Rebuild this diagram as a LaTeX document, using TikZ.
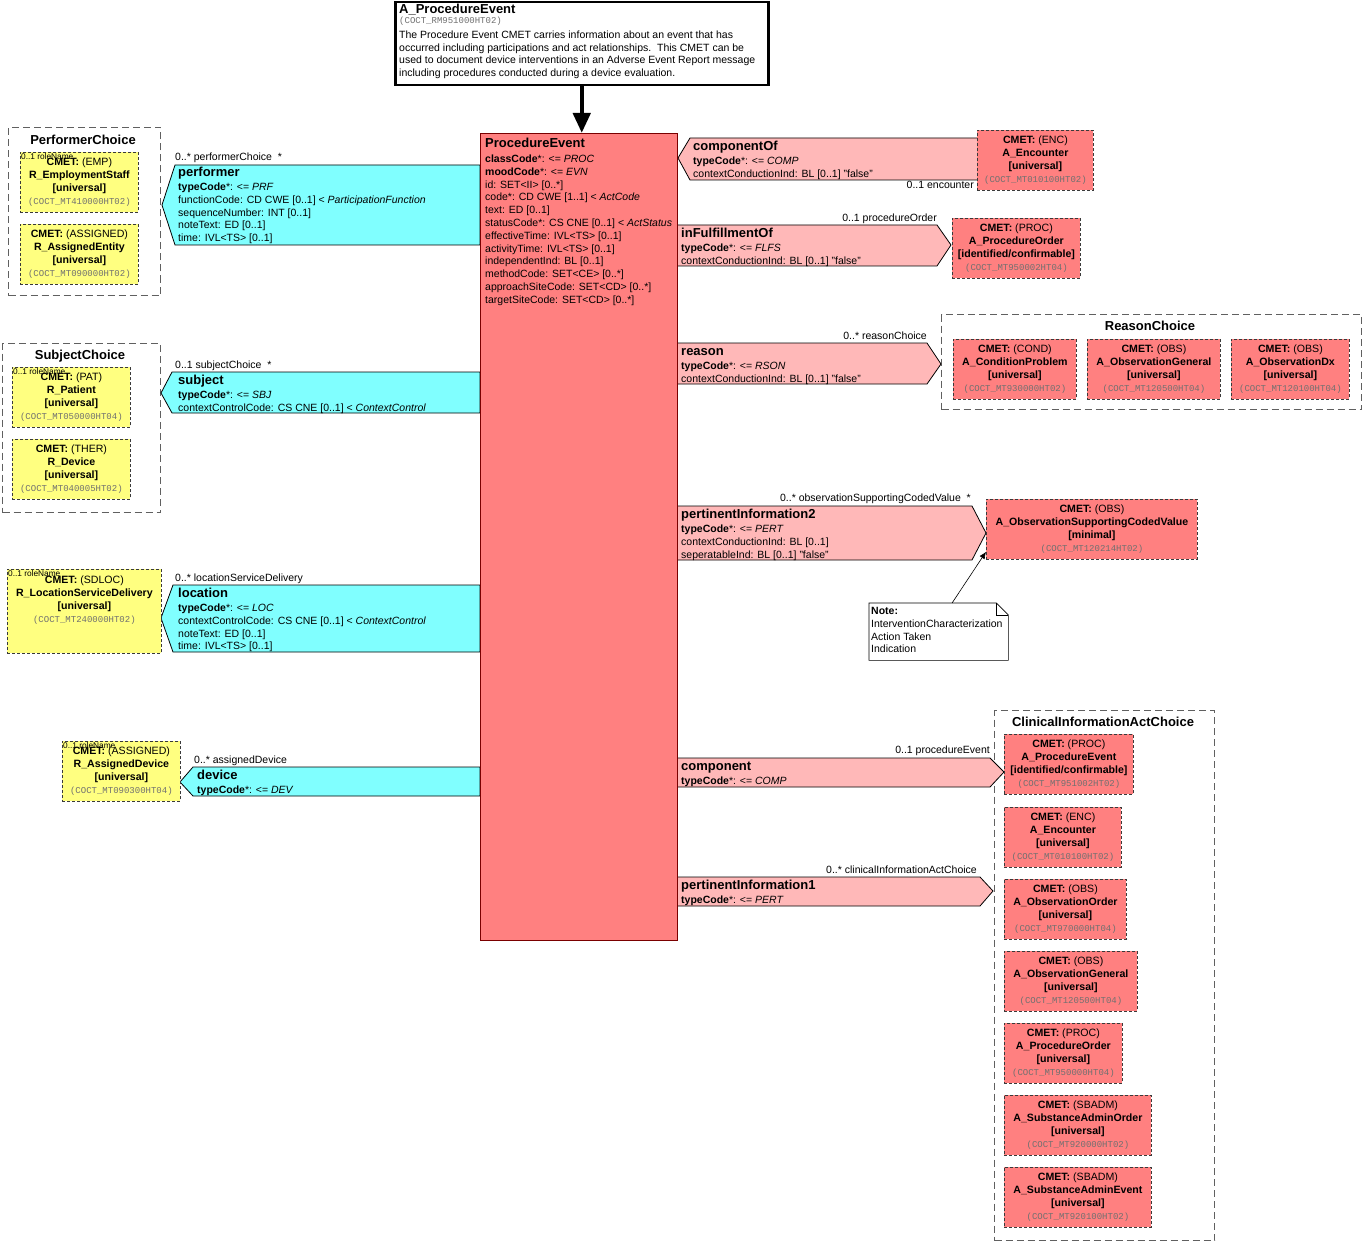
\documentclass[tikz,border=0pt]{standalone}
\usepackage{fontspec}
\setmainfont{Liberation Sans}
\setmonofont{Liberation Mono}
\usetikzlibrary{arrows.meta,positioning}

\definecolor{actred}{HTML}{FF8080}
\definecolor{actborder}{HTML}{7A0000}
\definecolor{relpink}{HTML}{FFB8B8}
\definecolor{partcyan}{HTML}{80FFFF}
\definecolor{roleyellow}{HTML}{FFFF80}
\definecolor{cmetborder}{HTML}{3A3A3A}
\definecolor{choicegray}{HTML}{606060}
\definecolor{codegray}{HTML}{707070}

\newcommand\attrfont{\fontsize{10.5}{12.8}\selectfont}
\newcommand\headfont{\fontsize{13}{15}\selectfont\bfseries}
\newcommand\multfont{\fontsize{10.5}{12}\selectfont}
\newcommand\codefont{\fontsize{9}{11}\selectfont\ttfamily\color{codegray}}
\newcommand\cmetfont{\fontsize{10.6}{13}\selectfont}
\newcommand\rolenamefont{\fontsize{8.3}{9}\selectfont}
\newcommand\cmettext[4]{\textbf{CMET:} (#1)\\\textbf{#2}\\\textbf{[#3]}\\{\codefont(#4)}}

\begin{document}
\begin{tikzpicture}[x=1pt,y=-1pt,
    every node/.style={inner sep=0pt},
    attr/.style={anchor=base west, align=left, font=\attrfont},
    relhead/.style={anchor=base west, font=\headfont},
    mult/.style={anchor=base west, font=\multfont},
    multr/.style={anchor=base east, font=\multfont},
    rolename/.style={anchor=north west, font=\rolenamefont},
    cmet/.style={draw=cmetborder, line width=0.8pt, dash pattern=on 3pt off 2pt,
      anchor=north west, align=center, font=\cmetfont, inner sep=2pt, minimum height=60},
    roleBox/.style={cmet, fill=roleyellow},
    actBox/.style={cmet, fill=actred},
    choice/.style={draw=choicegray, line width=1pt, dash pattern=on 7pt off 4pt, anchor=north west},
    choicetitle/.style={anchor=base, font=\headfont},
    partic/.style={draw=black, line width=0.8pt, fill=partcyan},
    actrel/.style={draw=black, line width=0.8pt, fill=relpink},
    bigarrow/.style={line width=4.5pt, -{Triangle[length=20pt,width=17pt]}}]

  \useasboundingbox (0,0) rectangle (1362,1241);

  % header box (multi-line nodes sit on the baseline of their last line)
  \node[draw, line width=2.5pt, fill=white, anchor=north west,
    minimum width=373, minimum height=83] (intro) at (394,1) {};
  \node[relhead] (introTitle) at (399,13.5) {A\_ProcedureEvent};
  \node[anchor=base west, font=\codefont] (introCode) at (399,23.5) {(COCT\_RM951000HT02)};
  \node[attr] (introText) at (399,76.7) {The Procedure Event CMET carries information about an event that has\\
    occurred including participations and act relationships.\ \ This CMET can be\\
    used to document device interventions in an Adverse Event Report message\\
    including procedures conducted during a device evaluation.};

  % choice boxes
  \node[choice, minimum width=152, minimum height=168] (perfChoice) at (8,127) {};
  \node[choicetitle] at (83,144.5) {PerformerChoice};
  \node[choice, minimum width=158, minimum height=169] (subjChoice) at (2,343) {};
  \node[choicetitle] at (80,359.5) {SubjectChoice};
  \node[choice, minimum width=420, minimum height=95] (reasonChoice) at (941,314) {};
  \node[choicetitle] at (1150,330.5) {ReasonChoice};
  \node[choice, minimum width=220, minimum height=530] (clinChoice) at (994,710) {};
  \node[choicetitle] at (1103,726.5) {ClinicalInformationActChoice};

  % participations (left)
  \draw[partic] (480,165) -- (175,165) -- (162,205) -- (175,245) -- (480,245) -- cycle;
  \node[mult] at (175,161) {0..* performerChoice\ \ *};
  \node[relhead] (performer) at (178,176.5) {performer};
  \node[attr] (performerAttr) at (178,241.7) {\textbf{typeCode}*: <= \textit{PRF}\\
    functionCode: CD CWE [0..1] < \textit{ParticipationFunction}\\
    sequenceNumber: INT [0..1]\\
    noteText: ED [0..1]\\
    time: IVL<TS> [0..1]};

  \draw[partic] (480,372) -- (172,372) -- (161,393) -- (172,413) -- (480,413) -- cycle;
  \node[mult] at (175,368.5) {0..1 subjectChoice\ \ *};
  \node[relhead] (subject) at (178,384.5) {subject};
  \node[attr] (subjectAttr) at (178,411.3) {\textbf{typeCode}*: <= \textit{SBJ}\\
    contextControlCode: CS CNE [0..1] < \textit{ContextControl}};

  \draw[partic] (480,585) -- (173,585) -- (161,618) -- (173,652) -- (480,652) -- cycle;
  \node[mult] at (175,581.5) {0..* locationServiceDelivery};
  \node[relhead] (location) at (178,597.5) {location};
  \node[attr] (locationAttr) at (178,649.9) {\textbf{typeCode}*: <= \textit{LOC}\\
    contextControlCode: CS CNE [0..1] < \textit{ContextControl}\\
    noteText: ED [0..1]\\
    time: IVL<TS> [0..1]};

  \draw[partic] (480,767) -- (193,767) -- (180,782) -- (193,796) -- (480,796) -- cycle;
  \node[mult] at (194,763.5) {0..* assignedDevice};
  \node[relhead] (device) at (197,779.5) {device};
  \node[attr] (deviceAttr) at (197,793.5) {\textbf{typeCode}*: <= \textit{DEV}};

  % act relationships (right)
  \draw[actrel] (980,138) -- (690,138) -- (678,158) -- (690,180) -- (980,180) -- cycle;
  \node[relhead] (componentOf) at (693,150.5) {componentOf};
  \node[attr] (componentOfAttr) at (693,177.3) {\textbf{typeCode}*: <= \textit{COMP}\\
    contextConductionInd: BL [0..1] "false"};
  \node[multr] at (974,188.5) {0..1 encounter};

  \draw[actrel] (677,225) -- (937,225) -- (951,245) -- (937,266) -- (677,266) -- cycle;
  \node[multr] at (937,221.5) {0..1 procedureOrder};
  \node[relhead] (inFulfillmentOf) at (681,237.5) {inFulfillmentOf};
  \node[attr] (inFulfillmentOfAttr) at (681,264.3) {\textbf{typeCode}*: <= \textit{FLFS}\\
    contextConductionInd: BL [0..1] "false"};

  \draw[actrel] (677,343) -- (927,343) -- (941,364) -- (927,384) -- (677,384) -- cycle;
  \node[multr] at (927,339.5) {0..* reasonChoice};
  \node[relhead] (reason) at (681,355.5) {reason};
  \node[attr] (reasonAttr) at (681,382.3) {\textbf{typeCode}*: <= \textit{RSON}\\
    contextConductionInd: BL [0..1] "false"};

  \draw[actrel] (677,506) -- (972,506) -- (986,533) -- (972,560) -- (677,560) -- cycle;
  \node[multr] at (971,501.5) {0..* observationSupportingCodedValue\ \ *};
  \node[relhead] (pertInfo2) at (681,518.5) {pertinentInformation2};
  \node[attr] (pertInfo2Attr) at (681,558.1) {\textbf{typeCode}*: <= \textit{PERT}\\
    contextConductionInd: BL [0..1]\\
    seperatableInd: BL [0..1] "false"};

  \draw[actrel] (677,758) -- (990,758) -- (1004,772) -- (990,787) -- (677,787) -- cycle;
  \node[multr] at (990,753.5) {0..1 procedureEvent};
  \node[relhead] (component) at (681,770.5) {component};
  \node[attr] (componentAttr) at (681,784.5) {\textbf{typeCode}*: <= \textit{COMP}};

  \draw[actrel] (677,877) -- (980,877) -- (993,891) -- (980,906) -- (677,906) -- cycle;
  \node[multr] at (977,873.5) {0..* clinicalInformationActChoice};
  \node[relhead] (pertInfo1) at (681,889.5) {pertinentInformation1};
  \node[attr] (pertInfo1Attr) at (681,903.5) {\textbf{typeCode}*: <= \textit{PERT}};

  % focal class
  \node[draw=actborder, line width=0.8pt, fill=actred, anchor=north west,
    minimum width=197, minimum height=807] (pe) at (480,133) {};
  \node[relhead] (peTitle) at (485,147.5) {ProcedureEvent};
  \node[attr] (peAttr) at (485,303.3) {\textbf{classCode}*: <= \textit{PROC}\\
    \textbf{moodCode}*: <= \textit{EVN}\\
    id: SET<II> [0..*]\\
    code*: CD CWE [1..1] < \textit{ActCode}\\
    text: ED [0..1]\\
    statusCode*: CS CNE [0..1] < \textit{ActStatus}\\
    effectiveTime: IVL<TS> [0..1]\\
    activityTime: IVL<TS> [0..1]\\
    independentInd: BL [0..1]\\
    methodCode: SET<CE> [0..*]\\
    approachSiteCode: SET<CD> [0..*]\\
    targetSiteCode: SET<CD> [0..*]};

  \draw[bigarrow] (intro.south) -- (intro.south |- pe.north);

  % role CMETs
  \node[roleBox, minimum width=118] (empStaff) at (20,152) {\cmettext{EMP}{R\_EmploymentStaff}{universal}{COCT\_MT410000HT02}};
  \node[rolename] at (21,153) {0..1 roleName};
  \node[roleBox, minimum width=118] (assignedEntity) at (20,224) {\cmettext{ASSIGNED}{R\_AssignedEntity}{universal}{COCT\_MT090000HT02}};
  \node[roleBox, minimum width=118] (patient) at (12,367) {\cmettext{PAT}{R\_Patient}{universal}{COCT\_MT050000HT04}};
  \node[rolename] at (13,368) {0..1 roleName};
  \node[roleBox, minimum width=118] (rDevice) at (12,439) {\cmettext{THER}{R\_Device}{universal}{COCT\_MT040005HT02}};
  \node[roleBox, minimum width=154, minimum height=84] (locDelivery) at (7,569) {\cmettext{SDLOC}{R\_LocationServiceDelivery}{universal}{COCT\_MT240000HT02}\\[11pt]};
  \node[rolename] at (8,570) {0..1 roleName};
  \node[roleBox, minimum width=118] (assignedDevice) at (62,741) {\cmettext{ASSIGNED}{R\_AssignedDevice}{universal}{COCT\_MT090300HT04}};
  \node[rolename] at (63,742) {0..1 roleName};

  % act CMETs
  \node[actBox, minimum width=116] (encounter) at (977,130) {\cmettext{ENC}{A\_Encounter}{universal}{COCT\_MT010100HT02}};
  \node[actBox, minimum width=128] (procOrder) at (952,218) {\cmettext{PROC}{A\_ProcedureOrder}{identified/confirmable}{COCT\_MT950002HT04}};
  \node[actBox, minimum width=123] (condProblem) at (953,339) {\cmettext{COND}{A\_ConditionProblem}{universal}{COCT\_MT930000HT02}};
  \node[actBox, minimum width=133] (obsGeneral) at (1087,339) {\cmettext{OBS}{A\_ObservationGeneral}{universal}{COCT\_MT120500HT04}};
  \node[actBox, minimum width=118] (obsDx) at (1231,339) {\cmettext{OBS}{A\_ObservationDx}{universal}{COCT\_MT120100HT04}};
  \node[actBox, minimum width=211] (obsSCV) at (986,499) {\cmettext{OBS}{A\_ObservationSupportingCodedValue}{minimal}{COCT\_MT120214HT02}};

  \node[actBox, minimum width=129] (clinProcEvent) at (1004,734) {\cmettext{PROC}{A\_ProcedureEvent}{identified/confirmable}{COCT\_MT951002HT02}};
  \node[actBox, minimum width=117] (clinEncounter) at (1004,807) {\cmettext{ENC}{A\_Encounter}{universal}{COCT\_MT010100HT02}};
  \node[actBox, minimum width=122] (clinObsOrder) at (1004,879) {\cmettext{OBS}{A\_ObservationOrder}{universal}{COCT\_MT970000HT04}};
  \node[actBox, minimum width=133] (clinObsGeneral) at (1004,951) {\cmettext{OBS}{A\_ObservationGeneral}{universal}{COCT\_MT120500HT04}};
  \node[actBox, minimum width=118] (clinProcOrder) at (1004,1023) {\cmettext{PROC}{A\_ProcedureOrder}{universal}{COCT\_MT950000HT04}};
  \node[actBox, minimum width=147] (clinSbadmOrder) at (1004,1095) {\cmettext{SBADM}{A\_SubstanceAdminOrder}{universal}{COCT\_MT920000HT02}};
  \node[actBox, minimum width=147] (clinSbadmEvent) at (1004,1167) {\cmettext{SBADM}{A\_SubstanceAdminEvent}{universal}{COCT\_MT920100HT02}};

  % annotation
  \node[anchor=north west, minimum width=139, minimum height=57] (note) at (869,603) {};
  \draw[fill=white, line width=0.6pt] (note.north west) -- ([xshift=-12pt]note.north east)
    -- ([yshift=-12pt]note.north east) -- (note.south east) -- (note.south west) -- cycle;
  \draw[line width=0.6pt] ([xshift=-12pt]note.north east) |- ([yshift=-12pt]note.north east);
  \node[attr] (noteText) at (871,652.9) {\textbf{Note:}\\InterventionCharacterization\\Action Taken\\Indication};
  \draw[line width=0.6pt, -{Latex[length=7pt,width=6pt]}] (note.65) -- ([yshift=8pt]obsSCV.south west);

\end{tikzpicture}
\end{document}
